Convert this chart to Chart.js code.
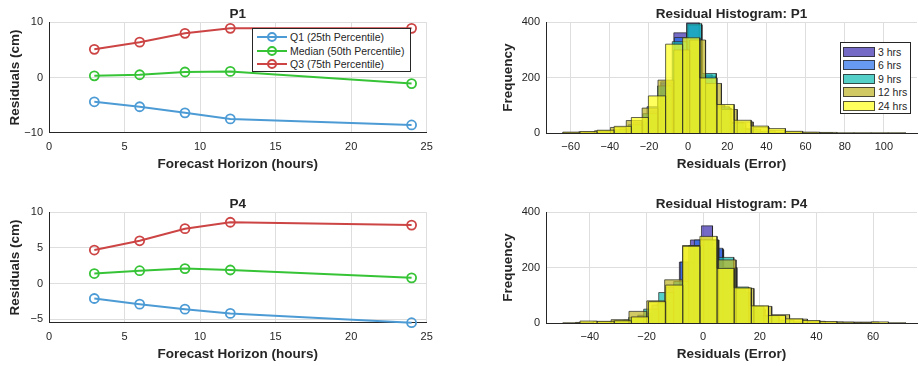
<!DOCTYPE html>
<html>
<head>
<meta charset="utf-8">
<script src="https://cdn.jsdelivr.net/npm/chart.js@4.4.1/dist/chart.umd.min.js"></script>
<style>
  body { margin: 0; background: #fff; width: 918px; height: 366px; overflow: hidden; position: relative;
         font-family: "Liberation Sans", Arial, sans-serif; }
  canvas { position: absolute; }
  .legend { position: absolute; background: #fff; border: 1px solid #262626; color: #262626;
            font-size: 10.5px; box-sizing: border-box; }
  .row { display: flex; align-items: center; white-space: nowrap; }
  .sample { position: relative; width: 30px; height: 10px; margin: 0 3px 0 4px; }
  .sample .ln { position: absolute; left: 0; right: 0; top: 4px; height: 2px; }
  .sample .mk { position: absolute; left: 10px; top: 0; width: 6px; height: 6px; border: 2px solid; border-radius: 50%; }
  .swatch { width: 30px; height: 8px; margin: 0 3px 0 2px; border: 1px solid rgba(40,40,40,0.8); }
</style>
</head>
<body>
<canvas id="p1Line" width="460" height="176" style="left:0;top:0"></canvas>
<canvas id="p1Hist" width="458" height="176" style="left:460px;top:0"></canvas>
<canvas id="p4Line" width="460" height="176" style="left:0;top:190px"></canvas>
<canvas id="p4Hist" width="458" height="176" style="left:460px;top:190px"></canvas>
<div class="legend" id="lineLegend" style="left:252px;top:28px;width:159px;height:44px;padding-top:1px"></div>
<div class="legend" id="histLegend" style="left:840px;top:42px;width:71px;height:72px;padding-top:2px"></div>

<script>
// forecast horizons (hours) and residual quantiles (cm)
const hours = [3, 6, 9, 12, 24];
const seriesNames = ['Q1 (25th Percentile)', 'Median (50th Percentile)', 'Q3 (75th Percentile)'];
const seriesColors = ['#4c9bd5', '#36c436', '#cc4444'];

const p1Q1 = [-4.4, -5.3, -6.4, -7.5, -8.6];
const p1Median = [0.3, 0.5, 1.0, 1.1, -1.1];
const p1Q3 = [5.1, 6.4, 8.0, 8.9, 8.9];

const p4Q1 = [-2.1, -2.9, -3.6, -4.2, -5.5];
const p4Median = [1.4, 1.8, 2.1, 1.9, 0.8];
const p4Q3 = [4.7, 6.0, 7.7, 8.6, 8.2];

// histogram bins (edges + counts) per horizon
const horizonNames = ['3 hrs', '6 hrs', '9 hrs', '12 hrs', '24 hrs'];
const horizonColors = ['rgba(64,48,176,0.72)', 'rgba(40,110,235,0.7)', 'rgba(20,190,180,0.72)',
                       'rgba(190,180,40,0.72)', 'rgba(255,255,30,0.72)'];

const p1Edges3 = [-46.3, -39.8, -33.3, -26.8, -20.3, -13.8, -7.3, -0.8, 5.7, 12.2, 18.7, 25.2, 31.7, 38.2, 44.7];
const p1Counts3 = [1, 4, 12, 35, 80, 180, 362, 398, 210, 100, 40, 15, 5, 2];
const p1Edges6 = [-49, -42, -35, -28, -21, -14, -7, 0, 7, 14, 21, 28, 35, 42, 49];
const p1Counts6 = [2, 6, 15, 40, 95, 185, 345, 390, 205, 95, 38, 14, 5, 2];
const p1Edges9 = [-53.1, -45.6, -38.1, -30.6, -23.1, -15.6, -8.1, -0.6, 6.9, 14.4, 21.9, 29.4, 36.9, 44.4, 51.9];
const p1Counts9 = [2, 5, 12, 30, 70, 170, 330, 395, 215, 90, 35, 14, 6, 2];
const p1Edges12 = [-64, -55.9, -47.8, -39.7, -31.6, -23.5, -15.4, -7.3, 0.8, 8.9, 17.0, 25.1, 33.2, 41.3, 49.4, 57.5, 65.6, 73.7];
const p1Counts12 = [2, 4, 8, 20, 45, 90, 191, 300, 336, 179, 85, 40, 20, 10, 4, 2, 1];
const p1Edges24 = [-64, -55.3, -46.5, -37.8, -29, -20.3, -11.5, -2.8, 6, 14.7, 23.5, 32.2, 41, 49.7, 58.5, 67.2, 76, 84.7, 93.5, 102.2, 111];
const p1Counts24 = [3, 5, 10, 24, 56, 134, 321, 344, 199, 103, 46, 25, 16, 6, 3, 2, 1, 1, 1, 1];

const p4Edges3 = [-31.8, -27.9, -24, -20.1, -16.2, -12.3, -8.4, -4.5, -0.6, 3.3, 7.2, 11.1, 15, 18.9, 22.8, 26.7, 30.6, 34.5];
const p4Counts3 = [2, 6, 15, 35, 70, 130, 220, 300, 351, 265, 200, 120, 60, 28, 12, 5, 2];
const p4Edges6 = [-33.1, -28.1, -23.1, -18.1, -13.1, -8.1, -3.1, 1.9, 6.9, 11.9, 16.9, 21.9, 26.9, 31.9, 36.9];
const p4Counts6 = [4, 10, 28, 65, 130, 220, 300, 270, 200, 110, 50, 20, 8, 3];
const p4Edges9 = [-36.9, -31.6, -26.3, -21, -15.7, -10.4, -5.1, 0.2, 5.5, 10.8, 16.1, 21.4, 26.7, 32, 37.3, 42.6];
const p4Counts9 = [3, 8, 20, 50, 110, 150, 280, 300, 237, 130, 60, 25, 10, 4, 2];
const p4Edges12 = [-45.1, -38.8, -32.5, -26.2, -19.9, -13.6, -7.3, -1.0, 5.3, 11.6, 17.9, 24.2, 30.5, 36.8, 43.1, 49.4, 55.7, 62.0];
const p4Counts12 = [2, 5, 12, 42, 80, 156, 280, 300, 228, 125, 60, 30, 14, 6, 4, 3, 3];
const p4Edges24 = [-49.55, -43.5, -37.45, -31.4, -25.35, -19.3, -13.25, -7.2, -1.15, 4.9, 10.95, 17.0, 23.05, 29.1, 35.15, 41.2, 47.25, 53.3, 59.35, 65.4, 71.45];
const p4Counts24 = [1, 7, 6, 8, 22, 77, 137, 277, 313, 197, 127, 62, 27, 15, 9, 5, 3, 2, 4, 1];

Chart.defaults.font.family = '"Liberation Sans", Arial, sans-serif';
Chart.defaults.color = '#262626';
Chart.defaults.animation = false;

const minus = v => String(v).replace('-', '\u2212');
const txt = '#262626';
const boldFont = { size: 13.5, weight: 'bold' };

function axis(opts) {
  return Object.assign({
    type: 'linear',
    grid: { color: '#dedede', drawTicks: false },
    border: { color: txt, width: 1 },
    ticks: { font: { size: 11 }, color: txt, includeBounds: false, callback: minus }
  }, opts);
}

function lineChart(id, title, q1, med, q3, yMin, yStep) {
  const sets = [q1, med, q3].map((vals, i) => ({
    label: seriesNames[i],
    data: hours.map((h, j) => ({ x: h, y: vals[j] })),
    borderColor: seriesColors[i],
    borderWidth: 2,
    pointRadius: 4.5,
    pointBorderWidth: 1.8,
    pointBorderColor: seriesColors[i],
    pointBackgroundColor: 'rgba(255,255,255,0)',
    tension: 0,
    clip: false
  }));
  const x = axis({ min: 0, max: 25, afterFit: s => { s.height = 43.3; },
    title: { display: true, text: 'Forecast Horizon (hours)', color: txt, font: boldFont, padding: { top: 0, bottom: 3.6 } } });
  x.ticks = Object.assign({}, x.ticks, { stepSize: 5, padding: 7.4 });
  const y = axis({ min: yMin, max: 10, afterFit: s => { s.width = 49; },
    title: { display: true, text: 'Residuals (cm)', color: txt, font: boldFont, padding: { top: 6.9, bottom: 0 } } });
  y.ticks = Object.assign({}, y.ticks, { stepSize: yStep, padding: 6 });
  new Chart(document.getElementById(id), {
    type: 'line',
    data: { datasets: sets },
    options: {
      responsive: false,
      layout: { padding: { left: 0, right: 33.3, top: 0, bottom: 0 } },
      scales: { x: x, y: y },
      plugins: {
        legend: { display: false },
        tooltip: { enabled: false },
        title: { display: true, text: title, fullSize: false, color: txt, font: boldFont, padding: { top: 6.1, bottom: 0 } }
      }
    }
  });
}

// each bin becomes an outlined rectangle: up the left edge, across, down the right edge
function binOutline(edges, counts) {
  const pts = [];
  counts.forEach((c, i) => {
    pts.push({ x: edges[i], y: 0 }, { x: edges[i], y: c }, { x: edges[i + 1], y: c }, { x: edges[i + 1], y: 0 });
  });
  return pts;
}

function histChart(id, title, edgesList, countsList, xMin, xMax) {
  const sets = edgesList.map((edges, i) => ({
    label: horizonNames[i],
    data: binOutline(edges, countsList[i]),
    borderColor: 'rgba(35,35,35,0.7)',
    borderWidth: 1,
    backgroundColor: horizonColors[i],
    fill: 'origin',
    pointRadius: 0,
    tension: 0,
    order: 5 - i
  }));
  const x = axis({ min: xMin, max: xMax, afterFit: s => { s.height = 43; },
    title: { display: true, text: 'Residuals (Error)', color: txt, font: boldFont, padding: { top: 0, bottom: 3.6 } } });
  x.ticks = Object.assign({}, x.ticks, { stepSize: 20, padding: 7.4 });
  const y = axis({ min: 0, max: 400, afterFit: s => { s.width = 86; },
    title: { display: true, text: 'Frequency', color: txt, font: boldFont, padding: { top: 40.2, bottom: 0 } } });
  y.ticks = Object.assign({}, y.ticks, { stepSize: 200, padding: 6 });
  new Chart(document.getElementById(id), {
    type: 'line',
    data: { datasets: sets },
    options: {
      responsive: false,
      layout: { padding: { left: 0, right: 1, top: 0, bottom: 0 } },
      scales: { x: x, y: y },
      plugins: {
        legend: { display: false },
        tooltip: { enabled: false },
        title: { display: true, text: title, fullSize: false, color: txt, font: boldFont, padding: { top: 6.1, bottom: 0 } }
      }
    }
  });
}

lineChart('p1Line', 'P1', p1Q1, p1Median, p1Q3, -10, 10);
lineChart('p4Line', 'P4', p4Q1, p4Median, p4Q3, -5.5, 5);
histChart('p1Hist', 'Residual Histogram: P1',
  [p1Edges3, p1Edges6, p1Edges9, p1Edges12, p1Edges24],
  [p1Counts3, p1Counts6, p1Counts9, p1Counts12, p1Counts24], -72.6, 116.9);
histChart('p4Hist', 'Residual Histogram: P4',
  [p4Edges3, p4Edges6, p4Edges9, p4Edges12, p4Edges24],
  [p4Counts3, p4Counts6, p4Counts9, p4Counts12, p4Counts24], -55.5, 75.5);

// legends (MATLAB-style boxes inside the axes)
const lineLegend = document.getElementById('lineLegend');
seriesNames.forEach((name, i) => {
  const row = document.createElement('div');
  row.className = 'row';
  row.style.height = '13.8px';
  row.innerHTML = '<span class="sample"><i class="ln" style="background:' + seriesColors[i] + '"></i>' +
    '<i class="mk" style="border-color:' + seriesColors[i] + '"></i></span><span>' + name + '</span>';
  lineLegend.appendChild(row);
});
const histLegend = document.getElementById('histLegend');
horizonNames.forEach((name, i) => {
  const row = document.createElement('div');
  row.className = 'row';
  row.style.height = '13.5px';
  row.innerHTML = '<span class="swatch" style="background:' + horizonColors[i] + '"></span><span>' + name + '</span>';
  histLegend.appendChild(row);
});
</script>
</body>
</html>
